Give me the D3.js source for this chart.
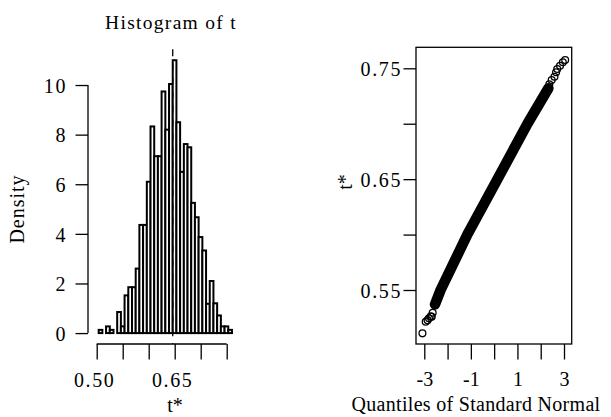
<!DOCTYPE html>
<html><head><meta charset="utf-8">
<script src="https://cdn.jsdelivr.net/npm/d3@7"></script>
<style>
html,body{margin:0;padding:0;background:#fff;}
svg text{font-family:"Liberation Serif","Times New Roman",serif !important;fill:#000;}
</style></head>
<body><svg id="c" width="611" height="417"></svg>
<script>
// ---- histogram data ----
const t0 = 0.6462;
const binEdges = [0.5038,0.5109,0.5180,0.5252,0.5323,0.5394,0.5465,0.5536,0.5608,0.5679,
  0.5750,0.5821,0.5892,0.5964,0.6035,0.6106,0.6177,0.6248,0.6320,0.6391,0.6462,
  0.6533,0.6604,0.6676,0.6747,0.6818,0.6889,0.6960,0.7032,0.7103,0.7174,0.7245,
  0.7316,0.7388,0.7459,0.7530,0.7601];
const densities = [0.13,0,0.27,0.13,0,0.85,0.27,1.52,1.85,1.85,2.6,4.36,4.36,6.1,8.33,7.13,7.13,9.74,8.2,10.04,
  11.0,8.5,6.5,7.62,7.49,5.25,4.67,3.87,3.33,1.18,2.1,1.2,0.71,0.27,0.27,0.13];
const histXTicks = [0.50,0.55,0.60,0.65,0.70,0.75];
const histXLabels = ["0.50","","","0.65","",""];
const histYTicks = [0,2,4,6,8,10];

// ---- QQ data (theoretical quantile, t*) ----
const qqTailLowQ = [-3.08,-2.94,-2.86,-2.80,-2.72,-2.68,-2.64];
const qqTailLowT = [0.5109,0.5214,0.5228,0.5245,0.5262,0.5259,0.5295];
const qqBandQ = [-2.54,-2.30,-1.15,0.14,1.43,2.33];
const qqBandT = [0.537,0.550,0.600,0.650,0.700,0.732];
const qqTailHighQ = [2.37,2.47,2.59,2.66,2.71,2.83,2.95,3.05];
const qqTailHighT = [0.7356,0.7394,0.7424,0.7464,0.7494,0.7523,0.7554,0.7575];
const qqXTicks = [-3,-2,-1,0,1,2,3];
const qqXLabels = ["-3","","-1","","1","","3"];
const qqYTicks = [0.55,0.60,0.65,0.70,0.75];
const qqYLabels = ["0.55","","0.65","","0.75"];

const FONT = "Liberation Serif";
const svg = d3.select("#c");
svg.append("rect").attr("width",611).attr("height",417).attr("fill","#fff");
const FS = 20, LS = "1.6px", SW = 1.3;

// ===== Histogram =====
const hx = d3.scaleLinear().domain([0.5,0.75]).range([96.7,226.7]);
const hy = d3.scaleLinear().domain([-0.44,11.44]).range([344,49.3]);
const bins = densities.map((d,i)=>({x0:binEdges[i],x1:binEdges[i+1],d}));
const hg = svg.append("g");
hg.selectAll("rect.bar").data(bins).join("rect").attr("class","bar")
  .attr("x",b=>hx(b.x0)).attr("width",b=>hx(b.x1)-hx(b.x0))
  .attr("y",b=>hy(b.d)).attr("height",b=>hy(0)-hy(b.d))
  .attr("fill","#fff").attr("stroke","#000").attr("stroke-width",2.0);
hg.append("line").attr("x1",hx(t0)).attr("x2",hx(t0)).attr("y1",hy.range()[1]).attr("y2",hy.range()[0])
  .attr("stroke","#000").attr("stroke-width",1.3).attr("stroke-dasharray","7,7");

const hxAxis = d3.axisBottom(hx).tickValues(histXTicks).tickSize(15.5).tickSizeOuter(0)
  .tickFormat((d,i)=>histXLabels[i]);
const gx = svg.append("g").attr("transform","translate(0,344)").call(hxAxis);
gx.attr("font-family",FONT);
gx.select(".domain").attr("d",`M${hx(0.5)},0H${hx(0.75)}`);
gx.selectAll("line,path").attr("stroke","#000").attr("stroke-width",SW);
gx.selectAll("text").attr("y",null).attr("dy",null).attr("transform","translate(-2.5,42.7)")
  .style("font-size",FS+"px").style("letter-spacing",LS);

const hyAxis = d3.axisLeft(hy).tickValues(histYTicks).tickSize(12.5).tickSizeOuter(0).tickFormat(d3.format("d"));
const gy = svg.append("g").attr("transform","translate(88,0)").call(hyAxis);
gy.attr("font-family",FONT);
gy.select(".domain").attr("d",`M0,${hy(0)}V${hy(10)}`);
gy.selectAll("line,path").attr("stroke","#000").attr("stroke-width",SW);
gy.selectAll("text").attr("x",-21).attr("dy",null).attr("y",7.3)
  .style("font-size",FS+"px").style("letter-spacing",LS);

svg.append("text").attr("x",171).attr("y",29).attr("text-anchor","middle").attr("font-family",FONT)
  .style("font-size","19.5px").style("letter-spacing","1.3px").text("Histogram of t");
svg.append("text").attr("x",175).attr("y",412).attr("text-anchor","middle").attr("font-family",FONT)
  .style("font-size",FS+"px").text("t*");
svg.append("text").attr("transform","translate(24,209) rotate(-90)").attr("text-anchor","middle").attr("font-family",FONT)
  .style("font-size",FS+"px").style("letter-spacing","1px").text("Density");

// ===== QQ plot =====
const qx = d3.scaleLinear().domain([-3,3]).range([424.3,564]);
const qy = d3.scaleLinear().domain([0.55,0.75]).range([290,68.3]);
const box = {x0:416,x1:571.7,y0:47.3,y1:344};
svg.append("rect").attr("x",box.x0).attr("y",box.y0).attr("width",box.x1-box.x0).attr("height",box.y1-box.y0)
  .attr("fill","none").attr("stroke","#000").attr("stroke-width",SW);

const band = qqBandQ.map((q,i)=>[q,qqBandT[i]]);
svg.append("path").datum(band)
  .attr("d",d3.line().x(d=>qx(d[0])).y(d=>qy(d[1])))
  .attr("fill","none").attr("stroke","#000").attr("stroke-width",10.5)
  .attr("stroke-linecap","round").attr("stroke-linejoin","round");
const tails = qqTailLowQ.map((q,i)=>[q,qqTailLowT[i]]).concat(qqTailHighQ.map((q,i)=>[q,qqTailHighT[i]]));
svg.selectAll("circle.pt").data(tails).join("circle").attr("class","pt")
  .attr("cx",d=>qx(d[0])).attr("cy",d=>qy(d[1])).attr("r",3.4)
  .attr("fill","none").attr("stroke","#000").attr("stroke-width",1.3);

const qxAxis = d3.axisBottom(qx).tickValues(qqXTicks).tickSize(15.5).tickSizeOuter(0).tickFormat((d,i)=>qqXLabels[i]);
const gqx = svg.append("g").attr("transform","translate(0,344)").call(qxAxis);
gqx.attr("font-family",FONT);
gqx.select(".domain").remove();
gqx.selectAll("line").attr("stroke","#000").attr("stroke-width",SW);
gqx.selectAll("text").attr("y",null).attr("dy",null).attr("transform","translate(0,42)")
  .style("font-size",FS+"px");

const qyAxis = d3.axisLeft(qy).tickValues(qqYTicks).tickSize(12.5).tickSizeOuter(0).tickFormat((d,i)=>qqYLabels[i]);
const gqy = svg.append("g").attr("transform","translate(416,0)").call(qyAxis);
gqy.attr("font-family",FONT);
gqy.select(".domain").remove();
gqy.selectAll("line").attr("stroke","#000").attr("stroke-width",SW);
gqy.selectAll("text").attr("x",-14).attr("dy",null).attr("y",7.3)
  .style("font-size",FS+"px").style("letter-spacing",LS);

svg.append("text").attr("x",476).attr("y",411).attr("text-anchor","middle").attr("font-family",FONT)
  .style("font-size",FS+"px").style("letter-spacing","0.3px").text("Quantiles of Standard Normal");
svg.append("text").attr("transform","translate(352,182) rotate(-90)").attr("text-anchor","middle").attr("font-family",FONT)
  .style("font-size",FS+"px").text("t*");
</script></body></html>
